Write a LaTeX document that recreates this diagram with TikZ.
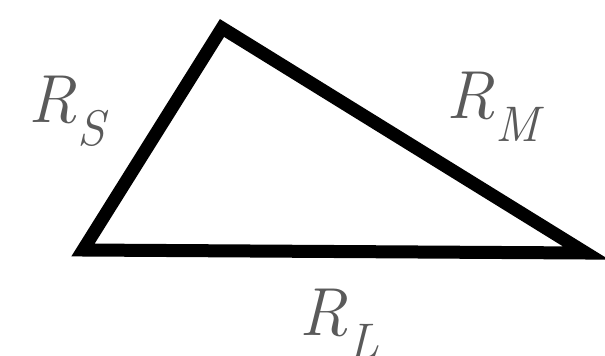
\documentclass[tikz,border=0pt]{standalone}
\usepackage{fontspec}
\usepackage{xcolor}
\definecolor{labelgray}{HTML}{5A5A5A}
\newcommand{\sidelabel}[2]{\fontsize{68}{68}\selectfont\itshape #1\kern1pt\raisebox{-23pt}{\fontsize{50}{50}\selectfont #2}}

\begin{document}
\begin{tikzpicture}[
    x=1pt, y=-1pt,
    edge/.style={line width=13pt, line join=miter, black},
    lbl/.style={text=labelgray, inner sep=0pt}
]
\useasboundingbox (0,0) rectangle (605,356);
\coordinate (top) at (222,28);
\coordinate (left) at (83,250);
\coordinate (right) at (586,253);
\draw[edge] (top) -- (right) -- (left) -- cycle;

\node[lbl, anchor=base west] (rs) at (28,122) {\sidelabel{R}{S}};
\node[lbl, anchor=base west] (rm) at (446,118) {\sidelabel{R}{M}};
\node[lbl, anchor=base west] (rl) at (299,335) {\sidelabel{R}{L}};
\end{tikzpicture}
\end{document}
